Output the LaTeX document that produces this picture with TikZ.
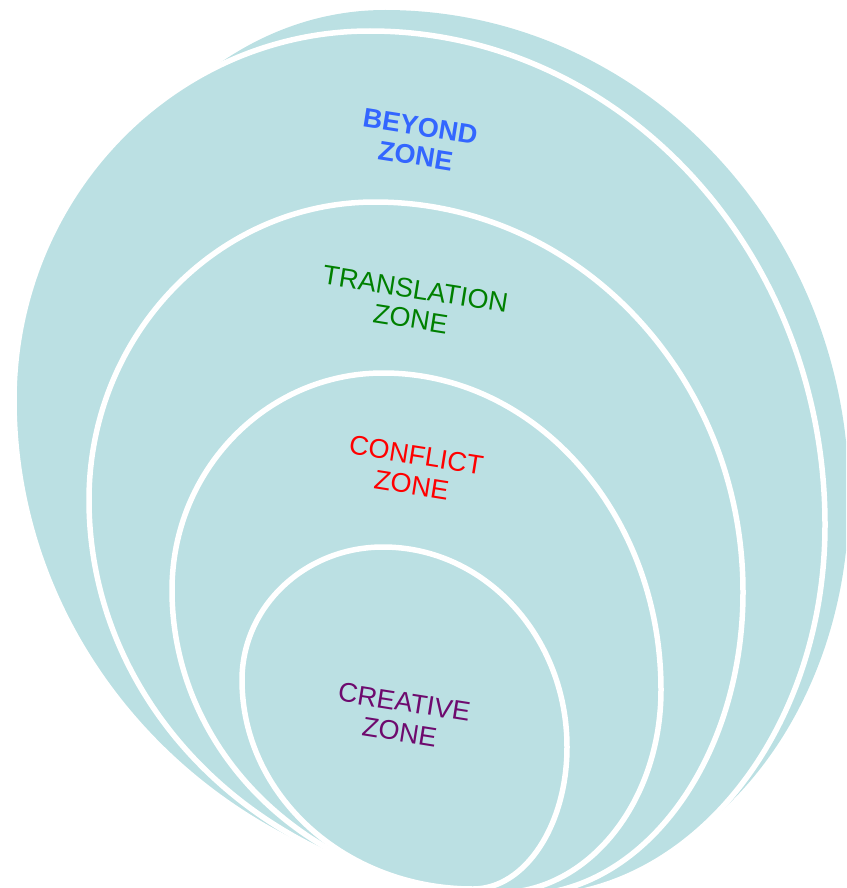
\documentclass[tikz,border=0pt]{standalone}
\usepackage{fontspec}
\setmainfont{Liberation Sans}
\definecolor{zonefill}{RGB}{187,224,227}
\definecolor{beyondcol}{RGB}{51,102,255}
\definecolor{transcol}{RGB}{0,128,0}
\definecolor{conflcol}{RGB}{255,0,0}
\definecolor{creatcol}{RGB}{110,10,110}
% #1 style; top (#2,#3); right (#4,#5); bottom (#6,#7); left (#8,#9)
\newcommand{\zoneblob}[9]{%
  \path[#1] (#2,#3)
    .. controls ({#2+0.5523*(#4-#2)},#3) and (#4,{#5-0.5523*(#5-#3)}) .. (#4,#5)
    .. controls (#4,{#5+0.5523*(#7-#5)}) and ({#6+0.5523*(#4-#6)},#7) .. (#6,#7)
    .. controls ({#6-0.5523*(#6-#8)},#7) and (#8,{#9+0.5523*(#7-#9)}) .. (#8,#9)
    .. controls (#8,{#9-0.5523*(#9-#3)}) and ({#2-0.5523*(#2-#8)},#3) .. (#2,#3) -- cycle;}
\begin{document}
\begin{tikzpicture}[x=1pt,y=-1pt,
  backzone/.style={fill=zonefill},
  zoneshape/.style={fill=zonefill,draw=white,line width=5.5pt,line join=round},
  zonelabel/.style={font=\fontsize{27}{30}\selectfont,align=center,rotate=-9,inner sep=0pt}]
\useasboundingbox (0,0) rectangle (846,888);
\clip (0,0) rectangle (846,888);
% back shape
\zoneblob{backzone}{385}{10}{849}{497}{533}{888}{40}{445}
% beyond zone
\zoneblob{zoneshape}{370}{31}{825}{525}{530}{897}{14}{400}
% translation zone
\zoneblob{zoneshape}{375}{202}{743}{592}{520}{895}{89}{500}
% conflict zone
\zoneblob{zoneshape}{383}{373}{661}{690}{498}{893}{172}{590}
% creative zone
\zoneblob{zoneshape}{383}{547}{567}{747}{473}{889}{242}{680}
% labels
\node[zonelabel,text=beyondcol,font=\fontsize{27}{30}\selectfont\bfseries] (beyond) at (418,141) {BEYOND\\ZONE};
\node[zonelabel,text=transcol] (translation) at (413,304) {TRANSLATION\\ZONE};
\node[zonelabel,text=conflcol] (conflict) at (414,470) {CONFLICT\\ZONE};
\node[zonelabel,text=creatcol] (creative) at (402,717) {CREATIVE\\ZONE};
\end{tikzpicture}
\end{document}
